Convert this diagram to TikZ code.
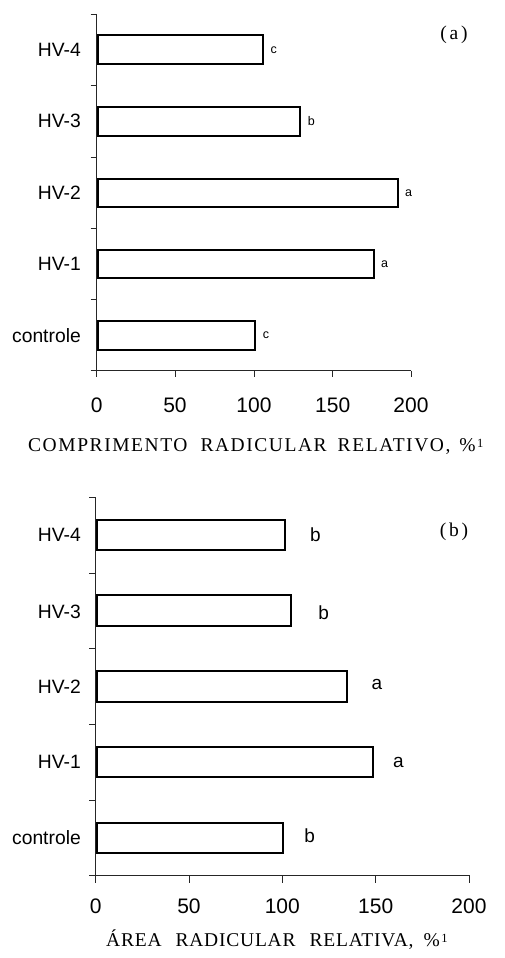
\documentclass[tikz,border=0pt]{standalone}
\usepackage{fontspec}
\setmainfont{Liberation Serif}
\newfontfamily\sansf{Liberation Sans}
\newfontfamily\titlefa[LetterSpace=8]{Liberation Serif}
\newfontfamily\titlefb[LetterSpace=4]{Liberation Serif}
\newfontfamily\panelf[LetterSpace=14]{Liberation Serif}
\newcommand{\supone}{\raisebox{4pt}{\fontsize{12.5}{12.5}\selectfont 1}}
\begin{document}
\begin{tikzpicture}[x=1pt,y=-1pt,
  axisline/.style={line width=0.9pt,black!85},
  barbox/.style={draw,line width=2pt,fill=white,inner sep=0pt,anchor=west},
  catlabel/.style={font=\sansf\fontsize{19.3}{19.3}\selectfont,anchor=east,inner sep=0pt},
  ticklabel/.style={font=\sansf\fontsize{21}{21}\selectfont,inner sep=0pt},
  smallsig/.style={font=\sansf\fontsize{12.5}{12.5}\selectfont,inner sep=0pt},
  bigsig/.style={font=\sansf\fontsize{19}{19}\selectfont,inner sep=0pt},
  panel/.style={font=\panelf\fontsize{19.5}{19.5}\selectfont,inner sep=0pt},
  axtitlea/.style={font=\titlefa\fontsize{19.5}{19.5}\selectfont,inner sep=0pt,anchor=base west},
  axtitleb/.style={font=\titlefb\fontsize{19.5}{19.5}\selectfont,inner sep=0pt,anchor=base west}]
\useasboundingbox (0,0) rectangle (505,958);
\fill[white] (0,0) rectangle (505,958);

% ---------------- panel (a) ----------------
\coordinate (aO) at (96.7,370.7);
\coordinate (aT) at (96.7,14);
\coordinate (aR) at (411,370.7);
\draw[axisline] (aT) -- (aO) -- (aR);
\foreach \y in {14,85.7,157,228.3,299.7,370.7}
  \draw[axisline] (90.7,\y) -- (96.7,\y);
\foreach \x/\t in {96.7/0,175/50,254/100,332.7/150,411/200}{
  \draw[axisline] (\x,370.7) -- (\x,377.3);
  \node[ticklabel] at (\x,405.5) {\t};
}
\node[barbox,minimum width=165pt,minimum height=29.3pt] (a4) at (96.7,49.7) {};
\node[barbox,minimum width=202.6pt,minimum height=28.7pt] (a3) at (96.7,121.35) {};
\node[barbox,minimum width=300pt,minimum height=27.7pt] (a2) at (96.7,192.85) {};
\node[barbox,minimum width=276pt,minimum height=27.7pt] (a1) at (96.7,263.85) {};
\node[barbox,minimum width=157.3pt,minimum height=28.7pt] (a0) at (96.7,335.35) {};
\node[catlabel] (la4) at (81,49.7) {HV-4};
\node[catlabel] (la3) at (81,121.35) {HV-3};
\node[catlabel] (la2) at (81,192.85) {HV-2};
\node[catlabel] (la1) at (81,263.85) {HV-1};
\node[catlabel] (la0) at (81,335.35) {controle};
\node[smallsig] (sa4) at ([xshift=10pt]a4.east) {c};
\node[smallsig] (sa3) at ([xshift=10pt]a3.east) {b};
\node[smallsig] (sa2) at ([xshift=10pt]a2.east) {a};
\node[smallsig] (sa1) at ([xshift=10pt]a1.east) {a};
\node[smallsig] (sa0) at ([xshift=10pt]a0.east) {c};
\node[panel] (pa) at (454,35) {(a)};
\node[axtitlea] (ta) at (28,451.7) {COMPRIMENTO\hspace{13pt}RADICULAR\hspace{11pt}RELATIVO,\hspace{9pt}\%\hspace{1.5pt}\supone};

% ---------------- panel (b) ----------------
\coordinate (bO) at (95.7,875);
\coordinate (bT) at (95.7,497.3);
\coordinate (bR) at (469,875);
\draw[axisline] (bT) -- (bO) -- (bR);
\foreach \y in {497.3,573,648.7,724.3,800,875}
  \draw[axisline] (89.3,\y) -- (95.7,\y);
\foreach \x/\t in {95.7/0,189/50,282.3/100,375.7/150,469/200}{
  \draw[axisline] (\x,875) -- (\x,883);
  \node[ticklabel] at (\x,906.5) {\t};
}
\node[barbox,minimum width=188.3pt,minimum height=30pt] (b4) at (95.7,535) {};
\node[barbox,minimum width=194.6pt,minimum height=30.7pt] (b3) at (95.7,610.7) {};
\node[barbox,minimum width=250pt,minimum height=30.7pt] (b2) at (95.7,686.3) {};
\node[barbox,minimum width=276.6pt,minimum height=30.3pt] (b1) at (95.7,762.2) {};
\node[barbox,minimum width=186.6pt,minimum height=30.6pt] (b0) at (95.7,838) {};
\node[catlabel] (lb4) at (81,535) {HV-4};
\node[catlabel] (lb3) at (81,612) {HV-3};
\node[catlabel] (lb2) at (81,686.3) {HV-2};
\node[catlabel] (lb1) at (81,762) {HV-1};
\node[catlabel] (lb0) at (81,837.3) {controle};
\node[bigsig] (sb4) at (315.3,535) {b};
\node[bigsig] (sb3) at (323.7,612.7) {b};
\node[bigsig] (sb2) at (377,684.3) {a};
\node[bigsig] (sb1) at (398.3,762.3) {a};
\node[bigsig] (sb0) at (309.7,836) {b};
\node[panel] (pb) at (454,531.7) {(b)};
\node[axtitleb] (tb) at (106,946.7) {ÁREA\hspace{14pt}RADICULAR\hspace{14pt}RELATIVA,\hspace{10pt}\%\hspace{1.5pt}\supone};
\end{tikzpicture}
\end{document}
